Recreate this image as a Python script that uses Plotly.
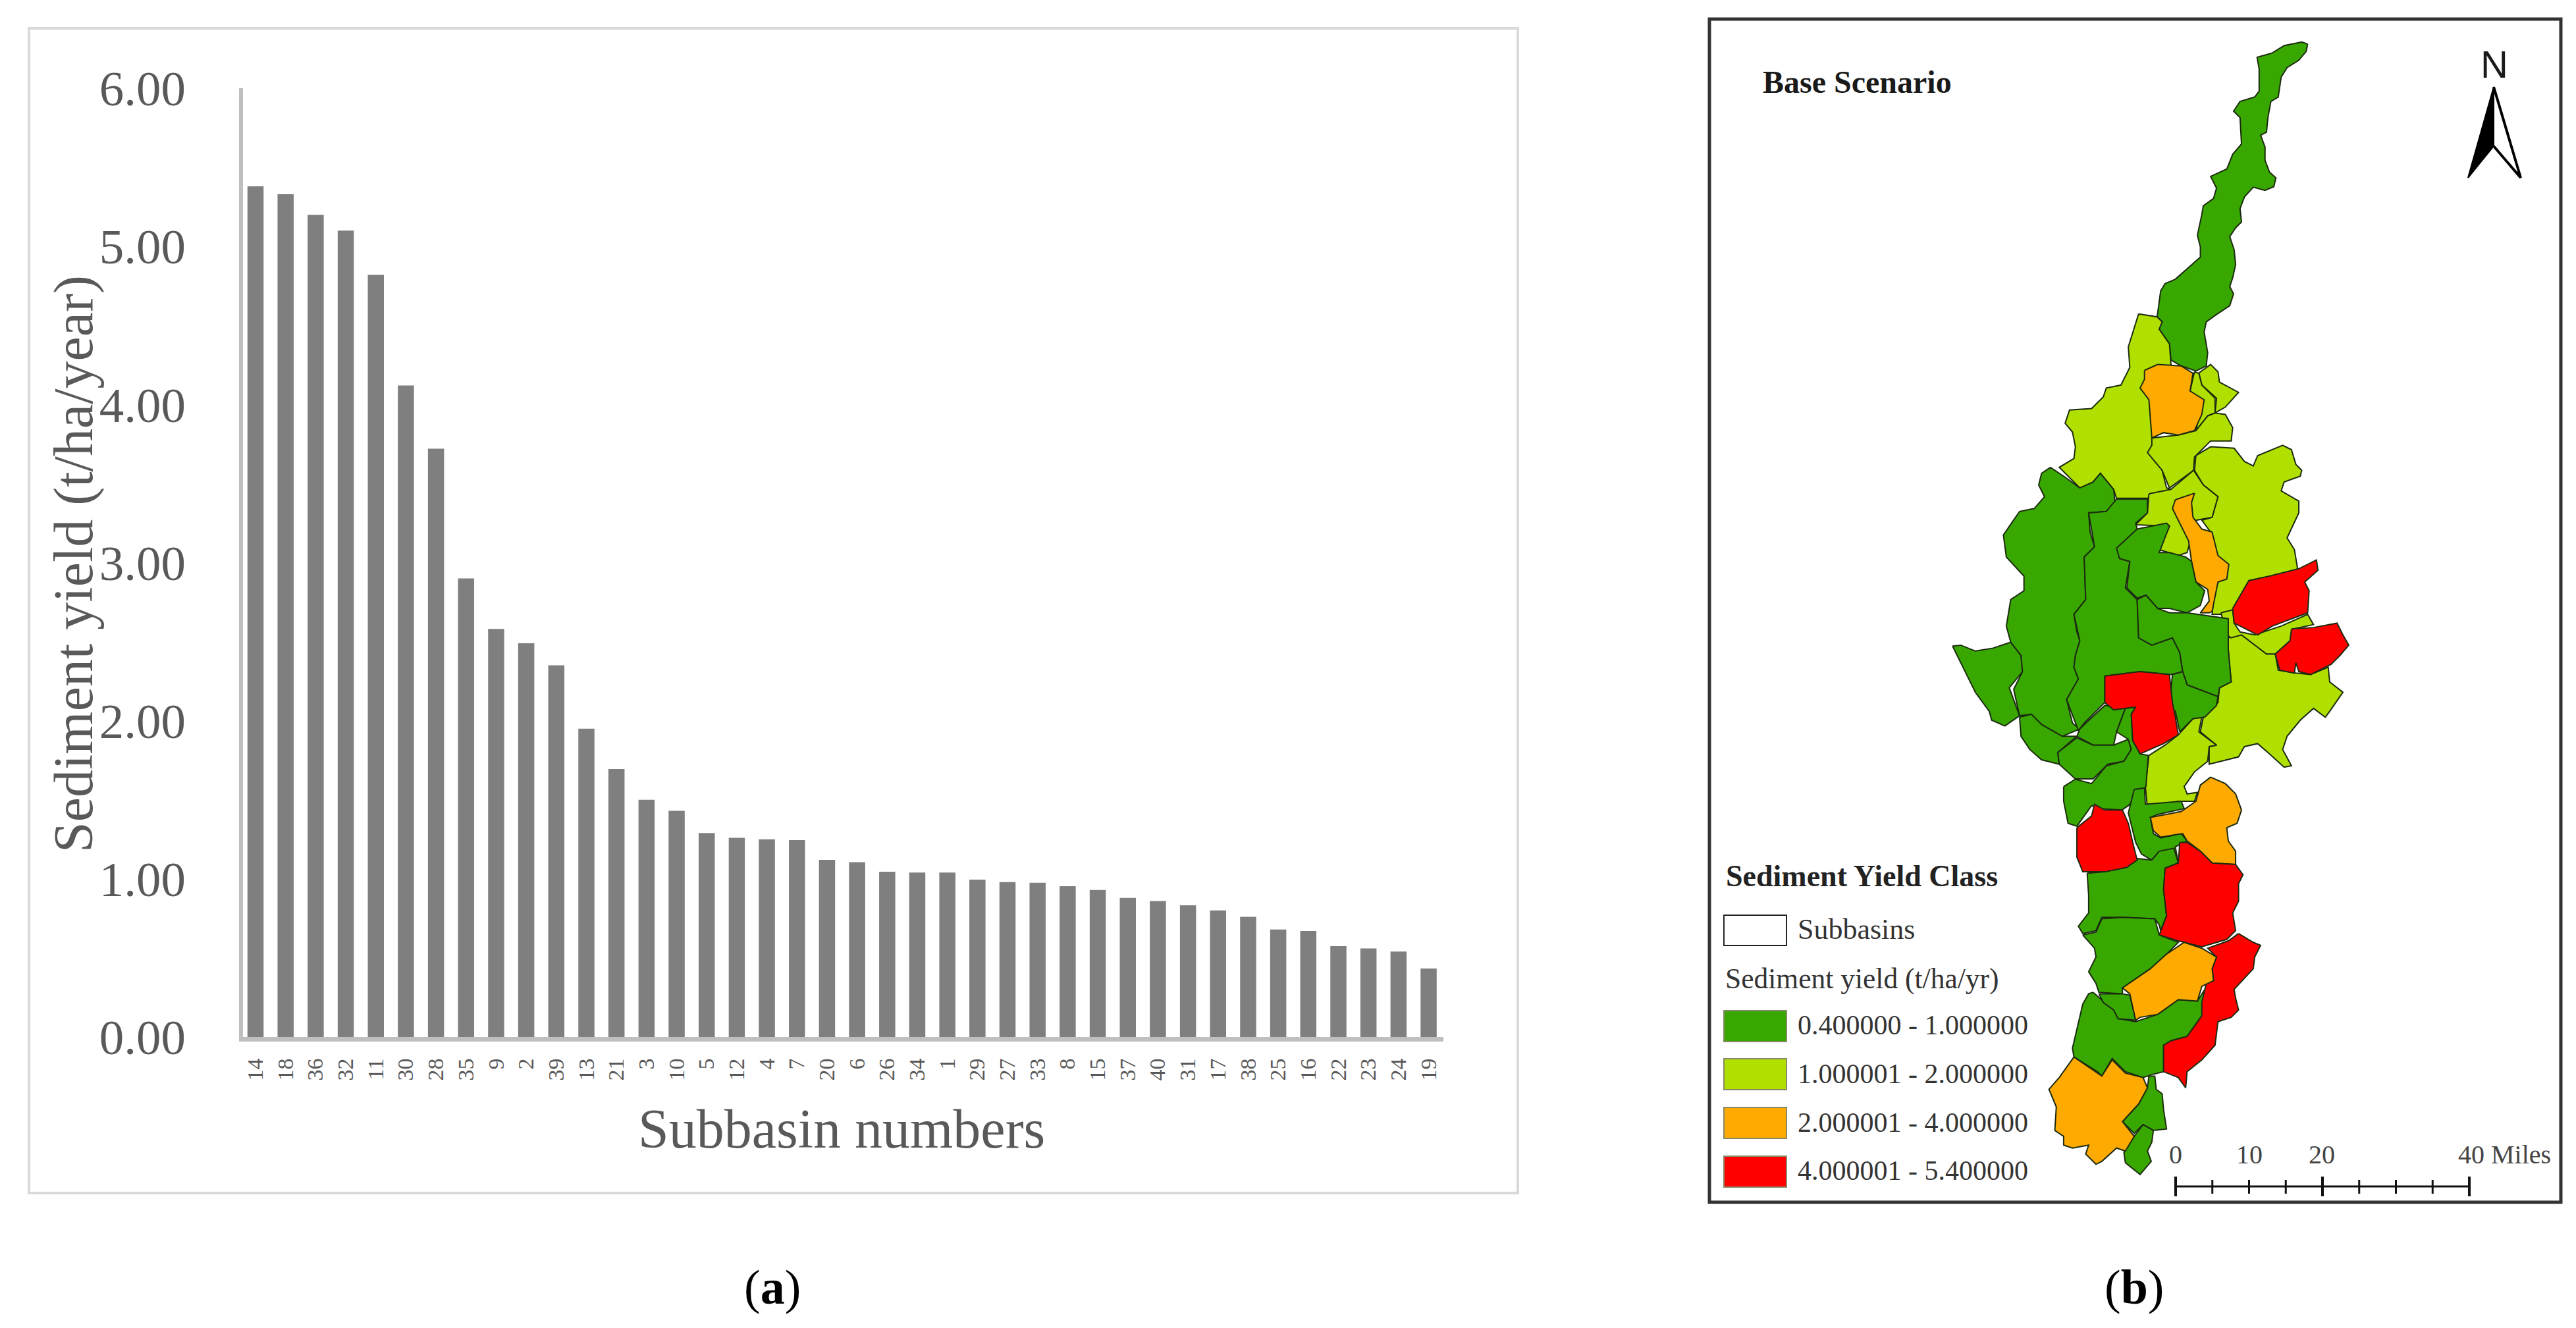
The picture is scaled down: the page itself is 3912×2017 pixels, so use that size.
import plotly.graph_objects as go

WIDTH, HEIGHT = 3912, 2017
SERIF = "Liberation Serif"

# panel (a): sediment yield by subbasin
SUBBASINS = ["14", "18", "36", "32", "11", "30", "28", "35", "9", "2",
             "39", "13", "21", "3", "10", "5", "12", "4", "7", "20",
             "6", "26", "34", "1", "29", "27", "33", "8", "15", "37",
             "40", "31", "17", "38", "25", "16", "22", "23", "24", "19"]
SEDIMENT_YIELD = [5.38, 5.33, 5.20, 5.10, 4.82, 4.12, 3.72, 2.90, 2.58, 2.49,
                  2.35, 1.95, 1.695, 1.50, 1.43, 1.29, 1.26, 1.25, 1.245, 1.12,
                  1.105, 1.045, 1.04, 1.04, 0.995, 0.98, 0.975, 0.953, 0.93, 0.88,
                  0.86, 0.833, 0.80, 0.76, 0.68, 0.67, 0.575, 0.56, 0.54, 0.433]
Y_TICKS = [0, 1, 2, 3, 4, 5, 6]

# panel (b): legend classes
CLASS_LABELS = ["0.400000 - 1.000000", "1.000001 - 2.000000",
                "2.000001 - 4.000000", "4.000001 - 5.400000"]
CLASS_COLORS = ["#38a800", "#b0e000", "#ffaa00", "#ff0000"]
LOW, MID, HIGH, TOP = CLASS_COLORS

# subbasin outlines, on three sheets (see SHEET_TOPS)
NORTH_LONG = [(1130, 150), (1125, 175), (1100, 205), (1060, 230), (1040, 262), (1030, 330), (1005, 345), (995, 400),
              (990, 450), (970, 460), (985, 500), (985, 545), (1000, 585), (1022, 605), (1015, 635), (985, 648),
              (945, 637), (915, 670), (900, 710), (905, 755), (885, 775), (865, 805), (880, 850), (885, 900),
              (875, 945), (865, 975), (878, 1000), (865, 1040), (820, 1070), (785, 1095), (778, 1130), (790, 1200),
              (785, 1245), (750, 1262), (700, 1245), (665, 1225), (660, 1170), (625, 1120), (635, 1095), (618, 1078),
              (630, 990), (645, 965), (680, 950), (730, 905), (765, 875), (765, 840), (755, 800), (770, 730),
              (775, 700), (810, 675), (820, 640), (800, 600), (855, 575), (875, 525), (905, 490), (900, 400),
              (878, 378), (900, 345), (950, 330), (965, 310), (965, 235), (958, 195), (1010, 180), (1050, 155),
              (1110, 143)]
NORTH_WEST = [(555, 1068), (618, 1078), (635, 1095), (625, 1120), (660, 1170), (665, 1240), (700, 1300), (610, 1490),
              (590, 1540), (630, 1580), (650, 1660), (665, 1665), (585, 1695), (480, 1695), (470, 1665), (425, 1610),
              (400, 1640), (355, 1660), (285, 1590), (335, 1560), (340, 1520), (330, 1470), (305, 1440), (320, 1395),
              (395, 1390), (435, 1350), (445, 1320), (495, 1310), (525, 1250), (520, 1180), (545, 1100)]
UPPER_NE = [(765, 145), (800, 120), (825, 145), (830, 180), (895, 215), (850, 265), (815, 285), (820, 235), (770, 190),
            (760, 150)]
UPPER_STRIP = [(745, 145), (760, 150), (770, 190), (815, 235), (815, 285), (790, 295), (750, 345), (770, 250),
               (730, 210)]
UPPER_CENTRE = [(600, 370), (690, 360), (750, 345), (790, 295), (815, 285), (850, 290), (875, 335), (870, 380),
                (800, 380), (745, 435), (742, 480), (660, 540), (635, 480), (585, 420), (600, 395)]
UPPER_ORANGE = [(575, 140), (620, 120), (700, 125), (740, 150), (730, 210), (778, 240), (770, 290), (745, 345),
                (690, 360), (640, 352), (600, 370), (590, 240), (560, 200), (575, 170)]
EAST_UPPER = [(750, 430), (800, 400), (880, 405), (915, 450), (945, 465), (960, 430), (1045, 395), (1075, 410),
              (1090, 460), (1110, 480), (1105, 500), (1050, 520), (1040, 550), (1100, 585), (1100, 625), (1075, 680),
              (1060, 710), (1085, 750), (1095, 810), (1090, 870), (870, 960), (835, 970), (805, 970), (815, 880),
              (860, 800), (815, 770), (800, 690), (770, 650), (805, 640), (825, 570), (775, 530), (745, 480)]
MIDDLE_NORTH = [(590, 560), (665, 545), (742, 480), (775, 530), (825, 570), (805, 640), (750, 650), (720, 760),
                (690, 770), (625, 750), (660, 670), (545, 665), (585, 625)]
ORANGE_STRIP = [(680, 580), (745, 558), (735, 590), (740, 640), (770, 680), (805, 690), (825, 770), (862, 800),
                (855, 850), (825, 860), (805, 960), (795, 965), (765, 965), (795, 925), (790, 885), (750, 860),
                (735, 790), (725, 720), (690, 650), (670, 610)]
WEST_BIG = [(255, 470), (300, 500), (355, 540), (400, 520), (425, 490), (470, 545), (475, 590), (445, 620), (385, 625),
            (390, 690), (405, 740), (370, 775), (375, 920), (335, 970), (345, 1030), (355, 1060), (340, 1110),
            (335, 1150), (350, 1190), (310, 1260), (330, 1340), (355, 1360), (295, 1385), (225, 1345), (190, 1310),
            (150, 1315), (130, 1225), (160, 1165), (155, 1110), (120, 1065), (105, 1010), (120, 920), (165, 890),
            (165, 840), (105, 775), (95, 700), (150, 620), (200, 610), (235, 570), (215, 530), (225, 490)]
WEST_SECOND = [(480, 578), (585, 578), (585, 625), (545, 660), (550, 680), (485, 745), (490, 780), (525, 790),
               (510, 880), (550, 920), (555, 1050), (600, 1075), (670, 1050), (695, 1100), (705, 1165), (665, 1175),
               (560, 1165), (440, 1180), (440, 1270), (400, 1310), (370, 1340), (350, 1365), (310, 1260), (350, 1190),
               (335, 1150), (340, 1110), (355, 1060), (335, 970), (375, 920), (370, 775), (405, 740), (385, 625),
               (445, 620)]
CENTRE_TOP = [(550, 680), (650, 660), (660, 670), (625, 760), (660, 760), (715, 775), (735, 790), (750, 860),
              (780, 890), (765, 940), (720, 965), (660, 950), (620, 950), (580, 905), (550, 915), (515, 880),
              (525, 790), (490, 780), (480, 745)]
CENTRE_LOW = [(550, 920), (580, 905), (620, 950), (660, 965), (720, 965), (860, 985), (860, 1030), (860, 1090),
              (870, 1200), (830, 1220), (825, 1250), (720, 1210), (705, 1165), (695, 1100), (670, 1050), (600, 1075),
              (555, 1050)]
CENTRE_EAST = [(705, 1165), (720, 1210), (825, 1250), (820, 1280), (780, 1320), (740, 1325), (695, 1370), (680, 1300),
               (660, 1280), (670, 1175)]
WEST_LOBE = [(-78, 1078), (-50, 1075), (0, 1095), (60, 1085), (120, 1065), (155, 1110), (160, 1165), (115, 1220),
             (150, 1315), (100, 1350), (55, 1330), (47, 1300), (0, 1236), (-58, 1120)]
RED_T = [(440, 1180), (480, 1175), (560, 1165), (660, 1175), (670, 1270), (680, 1320), (690, 1380), (640, 1410),
         (560, 1445), (535, 1400), (530, 1310), (545, 1285), (470, 1295), (440, 1270)]
LOWER_A = [(370, 1345), (440, 1280), (510, 1290), (480, 1370), (470, 1415), (400, 1415), (345, 1385), (355, 1360)]
LOWER_B = [(150, 1320), (190, 1310), (225, 1345), (295, 1385), (345, 1385), (280, 1440), (285, 1480), (225, 1465),
           (185, 1430), (155, 1385)]
LOWER_C = [(345, 1390), (400, 1415), (470, 1415), (520, 1395), (530, 1430), (505, 1470), (450, 1480), (400, 1530),
           (340, 1530), (285, 1480), (280, 1440)]
EAST_LOWER = [(860, 1050), (905, 1040), (990, 1105), (1020, 1105), (1030, 1160), (1090, 1170), (1140, 1175),
              (1200, 1150), (1205, 1200), (1250, 1235), (1205, 1300), (1190, 1320), (1150, 1290), (1105, 1330),
              (1060, 1385), (1045, 1430), (1075, 1485), (1050, 1490), (1000, 1445), (960, 1410), (915, 1420),
              (895, 1455), (795, 1480), (795, 1420), (820, 1415), (765, 1370), (775, 1320), (825, 1270), (830, 1220),
              (870, 1200), (860, 1090)]
BETWEEN_REDS = [(835, 965), (875, 955), (880, 1000), (900, 1030), (950, 1040), (1040, 1010), (1130, 970), (1150, 1005),
                (1080, 1020), (1070, 1060), (1020, 1105), (990, 1105), (905, 1040), (870, 1050), (855, 1040)]
RED_NE = [(875, 950), (930, 855), (1000, 840), (1100, 815), (1160, 785), (1165, 820), (1120, 860), (1135, 890),
          (1130, 965), (1010, 1010), (960, 1040), (920, 1020), (880, 1000)]
RED_E = [(1075, 1020), (1150, 1015), (1230, 1000), (1250, 1040), (1270, 1075), (1240, 1110), (1210, 1140), (1140, 1175),
         (1100, 1165), (1090, 1135), (1085, 1170), (1035, 1160), (1020, 1105), (1070, 1060)]
NECK = [(300, 100), (340, 75), (395, 90), (445, 30), (505, 14), (530, -26), (520, -61), (480, -86), (510, -166),
        (545, -171), (530, -146), (535, -56), (560, -11), (588, -6), (580, 100), (540, 145), (520, 165),
        (497, 180), (425, 175), (395, 165), (345, 235), (315, 225), (300, 150)]
NECK_STRIP = [(540, 110), (575, 105), (578, 160), (700, 150), (710, 175), (620, 195), (595, 205), (605, 260),
              (630, 275), (700, 260), (720, 285), (680, 305), (690, 360), (640, 375), (625, 320), (600, 350),
              (565, 330), (545, 290), (520, 190)]
NECK_LIGHT = [(590, -6), (645, -41), (690, -76), (740, -131), (770, -136), (760, -86), (820, -41), (795, -36),
              (790, 14), (745, 50), (710, 100), (720, 125), (755, 120), (745, 150), (690, 150), (585, 172), (578, 100)]
ORANGE_CENTRAL = [(800, 68), (850, 90), (885, 125), (905, 180), (890, 225), (855, 240), (860, 285), (885, 320),
                  (885, 365), (805, 360), (765, 320), (720, 285), (705, 260), (630, 272), (605, 250), (595, 205),
                  (700, 185), (750, 150), (765, 95)]
RED_WEST = [(345, 240), (395, 200), (405, 160), (440, 180), (500, 180), (520, 225), (535, 290), (550, 350), (515, 375),
            (440, 390), (365, 390), (345, 340)]
MID_SOUTH = [(380, 395), (440, 390), (515, 375), (552, 345), (600, 350), (625, 320), (675, 310), (690, 360), (645, 378),
             (640, 450), (650, 540), (630, 590), (625, 570), (610, 550), (500, 545), (430, 545), (410, 590), (365, 600),
             (350, 575), (385, 530), (385, 470)]
RED_CENTRAL = [(695, 290), (720, 290), (765, 320), (805, 360), (885, 365), (910, 400), (895, 430), (895, 490),
               (875, 530), (885, 590), (855, 620), (770, 645), (690, 625), (625, 605), (650, 540), (640, 450),
               (645, 378), (690, 360)]
SOUTH_A = [(365, 605), (410, 595), (430, 550), (500, 545), (610, 550), (625, 605), (690, 630), (650, 670), (595, 720),
           (500, 785), (500, 805), (420, 800), (410, 770), (385, 730), (410, 680), (405, 650)]
ORANGE_SOUTH = [(710, 630), (770, 650), (820, 680), (805, 720), (810, 760), (770, 780), (755, 830), (690, 825),
                (620, 875), (560, 885), (545, 895), (525, 805), (500, 785), (595, 720), (650, 670)]
RED_STRIP = [(895, 600), (945, 630), (970, 640), (950, 680), (945, 720), (880, 790), (885, 820), (895, 860), (870, 885),
             (825, 900), (815, 980), (770, 1030), (720, 1070), (715, 1125), (690, 1090), (640, 1070), (640, 980),
             (665, 965), (720, 950), (770, 880), (770, 835), (785, 770), (810, 760), (805, 720), (820, 680), (790, 650),
             (860, 625)]
SOUTH_SMALL = [(420, 805), (500, 805), (525, 810), (545, 895), (485, 890), (470, 860), (435, 835)]
SOUTH_LARGE = [(400, 800), (440, 835), (470, 860), (490, 890), (545, 900), (620, 875), (690, 825), (755, 830),
               (780, 790), (770, 880), (720, 950), (665, 965), (640, 980), (640, 1070), (600, 1080), (570, 1090),
               (510, 1070), (465, 1025), (430, 1085), (415, 1070), (335, 1020), (330, 990), (365, 840), (385, 805)]
ORANGE_SW = [(335, 1020), (415, 1075), (430, 1085), (465, 1030), (510, 1075), (570, 1090), (585, 1125), (555, 1180),
             (500, 1240), (540, 1290), (510, 1340), (480, 1330), (430, 1375), (410, 1385), (375, 1350), (385, 1320),
             (330, 1330), (300, 1320), (300, 1290), (270, 1270), (275, 1190), (250, 1130), (285, 1090)]
TAIL_UPPER = [(590, 1085), (610, 1085), (615, 1130), (635, 1145), (640, 1200), (650, 1265), (605, 1270), (570, 1250),
              (540, 1280), (500, 1240), (555, 1180), (585, 1125)]
TAIL_LOWER = [(570, 1250), (605, 1270), (600, 1310), (585, 1340), (598, 1375), (560, 1420), (510, 1380), (505, 1345),
              (540, 1290)]

SHEET_TOPS = {"north": 0, "middle": 500, "south": 1150}
BASINS = [
    ("north", LOW, NORTH_LONG), ("north", MID, NORTH_WEST), ("middle", MID, UPPER_NE), ("middle", MID, UPPER_STRIP),
    ("middle", MID, UPPER_CENTRE), ("middle", HIGH, UPPER_ORANGE), ("middle", MID, EAST_UPPER),
    ("middle", MID, MIDDLE_NORTH), ("middle", HIGH, ORANGE_STRIP), ("middle", MID, EAST_LOWER),
    ("middle", MID, BETWEEN_REDS), ("south", MID, NECK_LIGHT),
    ("middle", LOW, WEST_LOBE), ("middle", LOW, WEST_BIG), ("middle", LOW, WEST_SECOND), ("middle", LOW, CENTRE_TOP),
    ("middle", LOW, CENTRE_LOW), ("middle", LOW, CENTRE_EAST), ("middle", LOW, LOWER_A), ("middle", LOW, LOWER_B),
    ("middle", LOW, LOWER_C), ("south", LOW, NECK), ("south", LOW, NECK_STRIP),
    ("middle", TOP, RED_T), ("middle", TOP, RED_NE), ("middle", TOP, RED_E),
    ("south", LOW, MID_SOUTH), ("south", HIGH, ORANGE_CENTRAL), ("south", TOP, RED_WEST), ("south", TOP, RED_CENTRAL),
    ("south", LOW, SOUTH_A), ("south", LOW, SOUTH_LARGE), ("south", LOW, SOUTH_SMALL), ("south", TOP, RED_STRIP),
    ("south", HIGH, ORANGE_SOUTH), ("south", LOW, TAIL_UPPER), ("south", LOW, TAIL_LOWER), ("south", HIGH, ORANGE_SW),
]

fig = go.Figure()

fig.add_trace(go.Bar(x=SUBBASINS, y=SEDIMENT_YIELD, marker=dict(color="#7f7f7f", line_width=0),
                     showlegend=False, xaxis="x", yaxis="y"))


def on_canvas(xs, ys, **kwargs):
    fig.add_trace(go.Scatter(x=xs, y=ys, mode="lines", showlegend=False, hoverinfo="skip",
                             xaxis="x2", yaxis="y2", **kwargs))


# map: outlines were traced at 2.24x, so scale back to canvas pixels
for sheet, colour, outline in BASINS:
    top = SHEET_TOPS[sheet]
    on_canvas([3000 + p[0] / 2.24 for p in outline] + [3000 + outline[0][0] / 2.24],
              [top + p[1] / 2.24 for p in outline] + [top + outline[0][1] / 2.24],
              fill="toself", fillcolor=colour, line=dict(color="#1c2b10", width=2))

# north arrow
on_canvas([3787, 3748, 3787, 3787], [132, 270, 222, 132], fill="toself", fillcolor="black",
          line=dict(color="black", width=2))
on_canvas([3787, 3828, 3787], [132, 270, 222], line=dict(color="black", width=4))

shapes = []


def box(x0, y0, x1, y1, line_color, line_width, fill=None):
    shapes.append(dict(type="rect", xref="x2", yref="y2", x0=x0, y0=y0, x1=x1, y1=y1,
                       line=dict(color=line_color, width=line_width), fillcolor=fill, layer="below"))


def rule(x0, y0, x1, y1, width):
    shapes.append(dict(type="line", xref="x2", yref="y2", x0=x0, y0=y0, x1=x1, y1=y1,
                       line=dict(color="#111111", width=width)))


box(44, 43, 2305, 1812, "#d9d9d9", 4)
box(2596, 29, 3889, 1826, "#333333", 5)

# legend swatches
box(2618, 1390, 2713, 1436, "#222222", 2)
for top, colour in zip([1535, 1608, 1682, 1756], CLASS_COLORS):
    box(2618, top, 2713, top + 47, "#8a8a6a", 2, colour)

# scale bar
rule(3304, 1802, 3750, 1802, 3)
for i in range(9):
    tick_x = 3304 + i * 55.75
    if i % 4 == 0:
        rule(tick_x, 1787, tick_x, 1817, 4)
    else:
        rule(tick_x, 1792, tick_x, 1813, 3)


def label(x, y, text, size, color="#333333", anchor="left", angle=0, font=SERIF):
    return dict(x=x, y=y, xref="x2", yref="y2", text=text, showarrow=False, xanchor=anchor, yanchor="middle",
                textangle=angle, font=dict(family=font, size=size, color=color))


annotations = [
    label(112, 857, "Sediment yield (t/ha/year)", 84, "#595959", "center", -90),
    label(1278, 1714, "Subbasin numbers", 84, "#595959", "center"),
    label(1173, 1955, "(<b>a</b>)", 74, "black", "center"),
    label(3241, 1955, "(<b>b</b>)", 74, "black", "center"),
    label(2675, 124, "<b>Base Scenario</b>", 48, "#1a1a1a"),
    label(3788, 97, "N", 58, "#1a1a1a", "center", font="Liberation Sans"),
    label(2619, 1330, "<b>Sediment Yield Class</b>", 46, "#222222"),
    label(2728, 1411, "Subbasins", 44),
    label(2618, 1486, "Sediment yield (t/ha/yr)", 43.5),
    label(3304, 1753, "0", 40, "#444444", "center"),
    label(3416, 1753, "10", 40, "#444444", "center"),
    label(3526, 1753, "20", 40, "#444444", "center"),
    label(3731, 1753, "40 Miles", 40, "#444444"),
]
for y, text in zip([1557, 1631, 1705, 1778], CLASS_LABELS):
    annotations.append(label(2728, y, text, 42))

fig.update_layout(
    width=WIDTH, height=HEIGHT, margin=dict(l=0, r=0, t=0, b=0),
    paper_bgcolor="white", plot_bgcolor="rgba(0,0,0,0)", bargap=0.464,
    shapes=shapes, annotations=annotations,
    xaxis=dict(domain=[369 / WIDTH, 2192.4 / WIDTH], type="category", range=[-0.417, 39.5], anchor="y",
               automargin=False, tickangle=-90, tickfont=dict(family=SERIF, size=34, color="#595959"), ticks="",
               ticklabelstandoff=12, showgrid=False, showline=True, linecolor="#bfbfbf", linewidth=7, zeroline=False),
    yaxis=dict(domain=[1 - 1575 / HEIGHT, 1 - 134 / HEIGHT], range=[0, 6], anchor="x", tickvals=Y_TICKS,
               automargin=False, tickformat=".2f", tickfont=dict(family=SERIF, size=75, color="#595959"), ticks="",
               ticklabelstandoff=66, showgrid=False, showline=True, linecolor="#bfbfbf", linewidth=6, zeroline=False),
    xaxis2=dict(domain=[0, 1], range=[0, WIDTH], anchor="y2", visible=False, automargin=False),
    yaxis2=dict(domain=[0, 1], range=[HEIGHT, 0], anchor="x2", visible=False, automargin=False),
)

fig.write_html("out.html", config=dict(displayModeBar=False), post_script="document.body.style.margin='0';")
